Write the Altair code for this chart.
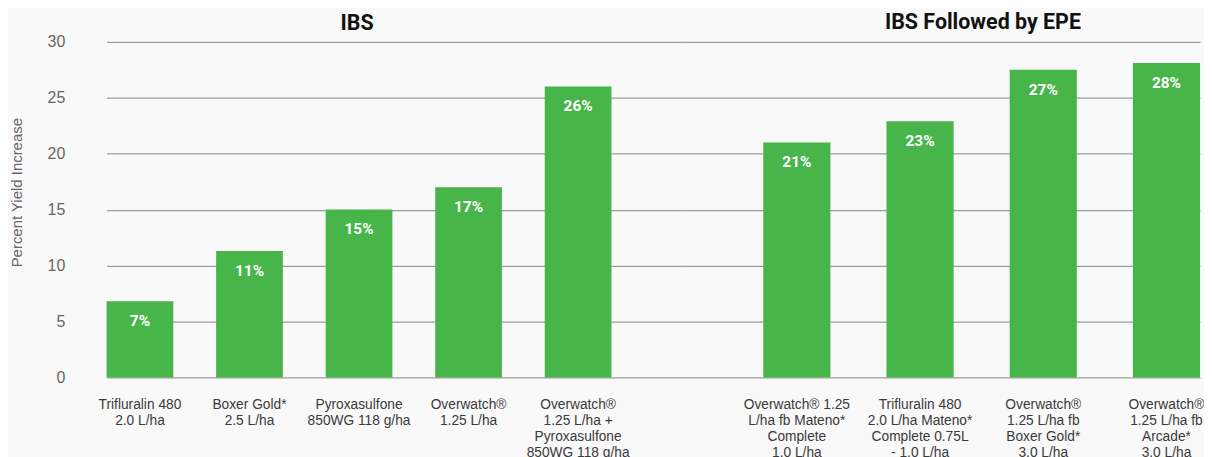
import altair as alt
import pandas as pd

ibs_labels = [
    "Trifluralin 480\n2.0 L/ha",
    "Boxer Gold*\n2.5 L/ha",
    "Pyroxasulfone\n850WG 118 g/ha",
    "Overwatch®\n1.25 L/ha",
    "Overwatch®\n1.25 L/ha +\nPyroxasulfone\n850WG 118 g/ha",
]
ibs_values = [6.8, 11.3, 15.0, 17.0, 26.0]
ibs_text = ["7%", "11%", "15%", "17%", "26%"]

epe_labels = [
    "Overwatch® 1.25\nL/ha fb Mateno*\nComplete\n1.0 L/ha",
    "Trifluralin 480\n2.0 L/ha Mateno*\nComplete 0.75L\n- 1.0 L/ha",
    "Overwatch®\n1.25 L/ha fb\nBoxer Gold*\n3.0 L/ha",
    "Overwatch®\n1.25 L/ha fb\nArcade*\n3.0 L/ha",
]
epe_values = [21.0, 22.9, 27.5, 28.1]
epe_text = ["21%", "23%", "27%", "28%"]

GREEN = "#47b54a"
GRID = "#9c9c9c"
FONT = "Liberation Sans"
TITLE_FONT = "Roboto"

df1 = pd.DataFrame({"cat": ibs_labels, "val": ibs_values, "txt": ibs_text})
df2 = pd.DataFrame({"cat": epe_labels, "val": epe_values, "txt": epe_text})

yscale = alt.Scale(domain=[0, 30], nice=False)


def panel(df, order, inner, outer, align, width, title, dx, dy, show_y):
    xenc = alt.X(
        "cat:N",
        sort=order,
        scale=alt.Scale(paddingInner=inner, paddingOuter=outer, align=align),
        axis=alt.Axis(
            title=None,
            labelAngle=0,
            labelExpr="split(datum.label, '\\n')",
            labelFont=FONT,
            labelFontSize=13.8,
            labelColor="#3a3a3a",
            labelLineHeight=16,
            labelPadding=20,
            labelLimit=300,
            labelBaseline="top",
            ticks=False,
            domain=False,
        ),
    )
    if show_y:
        yaxis = alt.Axis(
            values=[0, 5, 10, 15, 20, 25, 30],
            title="Percent Yield Increase",
            titleFont=FONT,
            titleFontSize=15,
            titleFontWeight="normal",
            titleColor="#666666",
            titleX=-90,
            titleY=151,
            titleBaseline="middle",
            labelFont=FONT,
            labelFontSize=16,
            labelColor="#666666",
            labelPadding=42,
            ticks=False,
            domain=False,
            gridColor=GRID,
            gridWidth=1.2,
        )
    else:
        yaxis = alt.Axis(
            values=[0, 5, 10, 15, 20, 25, 30],
            title=None,
            labels=False,
            ticks=False,
            domain=False,
            gridColor=GRID,
            gridWidth=1.2,
        )
    base = alt.Chart(df)
    bars = base.mark_bar(color=GREEN).encode(
        x=xenc,
        y=alt.Y("val:Q", scale=yscale, axis=yaxis),
    )
    labels = base.mark_text(
        color="white",
        font=TITLE_FONT,
        fontWeight="bold",
        fontSize=15.5,
        baseline="middle",
        dy=20,
    ).encode(
        x=alt.X("cat:N", sort=order),
        y=alt.Y("val:Q", scale=yscale),
        text="txt:N",
    )
    return alt.layer(bars, labels).properties(
        width=width,
        height=337,
        title=alt.TitleParams(
            text=title,
            font=TITLE_FONT,
            fontSize=21.5,
            fontWeight="bold",
            color="#111111",
            anchor="middle",
            frame="group",
            dx=dx,
            dy=dy,
            offset=4,
        ),
    )


left = panel(df1, ibs_labels, 0.391, 0.341, 0, 582, "IBS", -39.5, 5, True)
right = panel(df2, epe_labels, 0.455, 0.313, 1, 516, "IBS Followed by EPE", 40, -4, False)

chart = (
    alt.hconcat(left, right, spacing=0)
    .resolve_scale(x="independent")
    .properties(background="#f9f9f9", padding={"left": 2, "top": 3, "right": 0, "bottom": 0})
    .configure_view(stroke=None)
)

chart.save("out.html", embed_options={"renderer": "svg", "actions": False})
